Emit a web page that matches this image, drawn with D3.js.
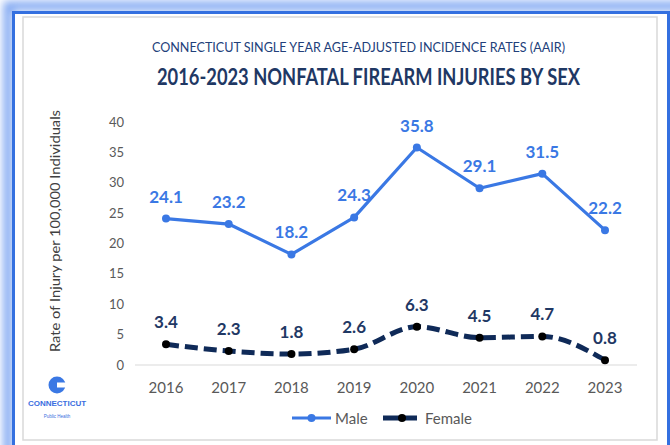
<!DOCTYPE html>
<html>
<head>
<meta charset="utf-8">
<script src="https://cdn.jsdelivr.net/npm/d3@7"></script>
<style>
  body { margin: 0; background: #fff; }
  svg { display: block; }
</style>
</head>
<body>
<svg id="chart"></svg>
<script>
var width = 670;
var height = 445;

// chart data
var years = ["2016", "2017", "2018", "2019", "2020", "2021", "2022", "2023"];
var maleRates = [24.1, 23.2, 18.2, 24.3, 35.8, 29.1, 31.5, 22.2];
var femaleRates = [3.4, 2.3, 1.8, 2.6, 6.3, 4.5, 4.7, 0.8];
var yTicks = [0, 5, 10, 15, 20, 25, 30, 35, 40];
var seriesNames = ["Male", "Female"];

var maleColor = "#3a78e4";
var femaleColor = "#0f2a58";
var navy = "#1f3864";
var gray = "#595959";

var svg = d3.select("#chart")
  .attr("width", width)
  .attr("height", height);

// frame: blue border with a soft glow, then grey inner box
var defs = svg.append("defs");
var glow = defs.append("filter").attr("id", "glow")
  .attr("x", "-10%").attr("y", "-10%").attr("width", "120%").attr("height", "120%");
glow.append("feGaussianBlur").attr("stdDeviation", 4);

svg.append("rect").attr("width", width).attr("height", height).attr("fill", "#fff");
svg.append("rect")
  .attr("x", 8).attr("y", 6).attr("width", 700).attr("height", 480)
  .attr("fill", "none").attr("stroke", "#7ea6f2").attr("stroke-width", 9)
  .attr("filter", "url(#glow)");
svg.append("rect")
  .attr("x", 13.5).attr("y", 12.5).attr("width", 655).attr("height", 460)
  .attr("fill", "#fff").attr("stroke", "#3470e0").attr("stroke-width", 3);
svg.append("rect")
  .attr("x", 23).attr("y", 17).attr("width", 634).attr("height", 423)
  .attr("fill", "#fff").attr("stroke", "#d9d9d9").attr("stroke-width", 1.5);

// titles
svg.append("text")
  .attr("x", 152).attr("y", 52)
  .attr("textLength", 413).attr("lengthAdjust", "spacingAndGlyphs")
  .style("font-family", "Lato, 'Open Sans', sans-serif")
  .style("font-size", "14px")
  .attr("fill", "#22407a")
  .text("CONNECTICUT SINGLE YEAR AGE-ADJUSTED INCIDENCE RATES (AAIR)");

svg.append("text")
  .attr("x", 157).attr("y", 85)
  .attr("textLength", 423).attr("lengthAdjust", "spacingAndGlyphs")
  .style("font-family", "Lato, 'Open Sans', sans-serif")
  .style("font-size", "23px").style("font-weight", "bold")
  .attr("fill", navy)
  .text("2016-2023 NONFATAL FIREARM INJURIES BY SEX");

// scales
var x = d3.scalePoint().domain(years).range([166, 605]);
var y = d3.scaleLinear().domain([0, 40]).range([365, 122]);

// baseline
svg.append("line")
  .attr("x1", 135).attr("x2", 637)
  .attr("y1", y(0)).attr("y2", y(0))
  .attr("stroke", "#d9d9d9").attr("stroke-width", 1.2);

// y tick labels
svg.selectAll(".ytick").data(yTicks).enter().append("text")
  .attr("class", "ytick")
  .attr("x", 124).attr("y", function (d) { return y(d) + 4.5; })
  .attr("text-anchor", "end")
  .style("font-family", "Lato, sans-serif").style("font-size", "13px")
  .attr("fill", gray)
  .text(function (d) { return d; });

// x tick labels
svg.selectAll(".xtick").data(years).enter().append("text")
  .attr("class", "xtick")
  .attr("x", function (d) { return x(d); }).attr("y", 393)
  .attr("text-anchor", "middle")
  .style("font-family", "Lato, sans-serif").style("font-size", "15px")
  .attr("fill", gray)
  .text(function (d) { return d; });

// y axis title
svg.append("text")
  .attr("transform", "translate(60,231)rotate(-90)")
  .attr("text-anchor", "middle")
  .attr("textLength", 242).attr("lengthAdjust", "spacingAndGlyphs")
  .style("font-family", "Lato, sans-serif").style("font-size", "12.5px")
  .attr("fill", "#404040")
  .text("Rate of Injury per 100,000 Individuals");

// lines
var maleLine = d3.line()
  .x(function (d, i) { return x(years[i]); })
  .y(function (d) { return y(d); });

var femaleLine = d3.line()
  .x(function (d, i) { return x(years[i]); })
  .y(function (d) { return y(d); })
  .curve(d3.curveMonotoneX);

svg.append("path").datum(femaleRates)
  .attr("d", femaleLine)
  .attr("fill", "none").attr("stroke", femaleColor)
  .attr("stroke-width", 5).attr("stroke-dasharray", "13,6");

svg.selectAll(".fdot").data(femaleRates).enter().append("circle")
  .attr("class", "fdot")
  .attr("cx", function (d, i) { return x(years[i]); })
  .attr("cy", function (d) { return y(d); })
  .attr("r", 4).attr("fill", "#000");

svg.append("path").datum(maleRates)
  .attr("d", maleLine)
  .attr("fill", "none").attr("stroke", maleColor)
  .attr("stroke-width", 3.2).attr("stroke-linejoin", "round");

svg.selectAll(".mdot").data(maleRates).enter().append("circle")
  .attr("class", "mdot")
  .attr("cx", function (d, i) { return x(years[i]); })
  .attr("cy", function (d) { return y(d); })
  .attr("r", 4).attr("fill", maleColor);

// data labels
svg.selectAll(".mlab").data(maleRates).enter().append("text")
  .attr("class", "mlab")
  .attr("x", function (d, i) { return x(years[i]); })
  .attr("y", function (d) { return y(d) - 16; })
  .attr("text-anchor", "middle")
  .style("font-family", "Lato, sans-serif").style("font-size", "17px").style("font-weight", "bold")
  .attr("fill", maleColor)
  .text(function (d) { return d.toFixed(1); });

svg.selectAll(".flab").data(femaleRates).enter().append("text")
  .attr("class", "flab")
  .attr("x", function (d, i) { return x(years[i]); })
  .attr("y", function (d) { return y(d) - 16; })
  .attr("text-anchor", "middle")
  .style("font-family", "Lato, sans-serif").style("font-size", "17px").style("font-weight", "bold")
  .attr("fill", navy)
  .text(function (d) { return d.toFixed(1); });

// legend
var legend = svg.append("g").attr("transform", "translate(292,418)");
var legItems = legend.selectAll("g").data(seriesNames).enter().append("g")
  .attr("transform", function (d, i) { return "translate(" + (i * 91) + ",0)"; });

legItems.append("line")
  .attr("x1", 0).attr("x2", function (d, i) { return i ? 34 : 39; })
  .attr("stroke", function (d, i) { return i ? femaleColor : maleColor; })
  .attr("stroke-width", function (d, i) { return i ? 5 : 3.2; });
legItems.append("circle")
  .attr("cx", function (d, i) { return i ? 19 : 19.5; })
  .attr("r", 4)
  .attr("fill", function (d, i) { return i ? "#000" : maleColor; });
legItems.append("text")
  .attr("x", function (d, i) { return i ? 42 : 43; }).attr("y", 5.5)
  .style("font-family", "Lato, sans-serif").style("font-size", "15px")
  .attr("fill", gray)
  .text(function (d) { return d; });

// Connecticut Public Health logo
var logo = svg.append("g").attr("transform", "translate(57,385)");
logo.append("circle").attr("r", 8.5).attr("fill", "#3a78e4");
logo.append("rect").attr("x", 0).attr("y", -2.5).attr("width", 10).attr("height", 5).attr("fill", "#fff");
logo.append("text")
  .attr("y", 21).attr("text-anchor", "middle")
  .style("font-family", "'Liberation Sans', Arial, sans-serif").style("font-size", "8px").style("font-weight", "bold")
  .attr("fill", "#3a6ee0")
  .text("CONNECTICUT");
logo.append("text")
  .attr("y", 33).attr("text-anchor", "middle")
  .style("font-family", "'Liberation Sans', Arial, sans-serif").style("font-size", "4.5px")
  .attr("fill", "#3a6ee0")
  .text("Public Health");
</script>
</body>
</html>
